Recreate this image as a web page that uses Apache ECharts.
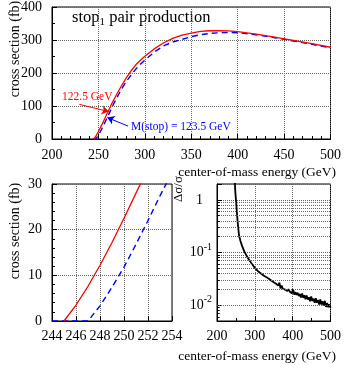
<!DOCTYPE html>
<html>
<head>
<meta charset="utf-8">
<script src="https://cdn.jsdelivr.net/npm/echarts@6/dist/echarts.min.js"></script>
<style>
  html, body { margin: 0; padding: 0; background: #fff; }
  #chart { width: 344px; height: 365px; }
</style>
</head>
<body>
<div id="chart"></div>
<script>
// stop pair cross sections (fb) vs center-of-mass energy (GeV)
const redEnergy = [245, 246, 247, 248, 249, 250, 251, 252, 254, 256, 258, 260, 262, 264, 267, 270,
  275, 280, 285, 290, 295, 300, 310, 320, 330, 340, 350, 360, 370, 380, 390, 400, 420, 440, 460, 480, 500]
const redXsec = [0, 3.5, 7.6, 12.2, 17.2, 22.5, 28, 33.5, 45, 57, 69, 80.5, 92.5, 105, 121, 137,
  162, 185, 206, 224, 238, 251, 273, 291, 305, 315, 321, 326, 328, 328.5, 327.5, 325.5, 318, 309, 299, 289, 278]

const blueEnergy = [244, 247, 248, 249, 250, 251, 252, 253, 254, 256, 258, 260, 262, 264, 266,
  270, 275, 280, 285, 290, 295, 300, 310, 320, 330, 340, 350, 360, 370, 380, 390, 400, 420, 440, 460, 480, 500]
const blueXsec = [0, 0, 3.3, 7.4, 11.8, 16.8, 22, 27.4, 32.5, 44, 56, 68, 80, 92, 104,
  126, 152, 174, 193, 211, 226, 239, 263, 282, 294, 302, 310, 316, 320, 322, 323, 322, 316, 307, 297, 287, 276]

// relative error on the cross section
const errEnergy = [247, 247.5, 248, 249, 250, 252, 254, 256, 258, 262, 266, 272, 279, 285, 292, 300, 310, 318, 325, 332,
  338, 341, 344, 347, 350, 353, 356, 359, 362, 365, 368, 371, 374, 377, 380, 383, 386, 389, 392, 395, 398,
  401, 404, 407, 410, 413, 416, 419, 422, 425, 428, 431, 434, 437, 440, 443, 446, 449, 452, 455, 458,
  461, 464, 467, 470, 473, 476, 479, 482, 485, 488, 491, 494, 497, 500]
const errRel = [3.5, 2.1, 1.6, 1.25, 1.02, 0.66, 0.43, 0.30, 0.215, 0.165, 0.135, 0.105, 0.085, 0.072, 0.061, 0.051, 0.043, 0.039, 0.0357, 0.0335,
  0.0314, 0.0311, 0.0290, 0.0296, 0.0271, 0.0281, 0.0254, 0.0267, 0.0236, 0.0267, 0.0207, 0.0236, 0.0205, 0.0219, 0.0198, 0.0213, 0.0185, 0.0202, 0.0182, 0.0197, 0.0167,
  0.0202, 0.0158, 0.0176, 0.0157, 0.0172, 0.0149, 0.0163, 0.0140, 0.0166, 0.0138, 0.0154, 0.0129, 0.0152, 0.0128, 0.0141, 0.0118, 0.0147, 0.0120, 0.0133, 0.0111,
  0.0135, 0.0111, 0.0125, 0.0103, 0.0129, 0.0103, 0.0118, 0.00975, 0.0121, 0.00926, 0.0110, 0.00910, 0.0104, 0.00893]

const FONT = '"Liberation Serif", "DejaVu Serif", serif'
const GRID_COLOR = '#666'

const pairs = (xs, ys) => xs.map((x, i) => [x, ys[i]])

// dotted lines + short ticks at 2..9 x each decade on the log axis
const logMinor = []
for (const dec of [0.001, 0.01, 0.1, 1]) {
  for (let m = 2; m <= 9; m++) {
    const v = +(m * dec).toPrecision(3)
    if (v > 0.005 && v < 2) {
      logMinor.push({ yAxis: v })
      logMinor.push([
        { coord: [200, v], lineStyle: { color: '#000', type: 'solid', width: 1 } },
        { coord: [207, v] }
      ])
    }
  }
}

const chart = echarts.init(document.getElementById('chart'), null, { renderer: 'canvas' })

const tickLabel = { color: '#000', fontFamily: FONT, fontSize: 14 }
const axisLine = { show: true, lineStyle: { color: '#000', width: 1 } }
const axisTick = { inside: true, length: 5, lineStyle: { color: '#000' } }
const minorTick = (n) => ({ show: true, splitNumber: n, length: 3, lineStyle: { color: '#000' } })
const splitLine = { show: true, lineStyle: { color: GRID_COLOR, type: 'dotted', width: 1 } }

const redLine = { color: '#ff0000', width: 1.3 }
const blueLine = { color: '#0000ff', width: 1.4, type: [6, 4] }

function logLabel(v) {
  const l = Math.log10(v)
  const e = Math.round(l)
  if (Math.abs(l - e) > 1e-6) return ''
  if (e === 0) return '{one|1}'
  return '{b|10}{s|' + e + '}'
}

const option = {
  animation: false,
  backgroundColor: '#fff',
  grid: [
    { left: 52, top: 3, width: 285, height: 136, show: true, borderColor: '#000', borderWidth: 1 },
    { left: 52, top: 184, width: 120, height: 137, show: true, borderColor: '#000', borderWidth: 1 },
    { left: 217, top: 184, width: 120, height: 137, show: true, borderColor: '#000', borderWidth: 1 }
  ],
  xAxis: [
    {
      gridIndex: 0, type: 'value', min: 200, max: 500, interval: 50,
      axisLine, axisTick, minorTick: minorTick(5), splitLine,
      axisLabel: { ...tickLabel, margin: 9 }
    },
    {
      gridIndex: 1, type: 'value', min: 244, max: 254, interval: 2,
      axisLine, axisTick, splitLine,
      axisLabel: { ...tickLabel, margin: 8 }
    },
    {
      gridIndex: 2, type: 'value', min: 200, max: 500, interval: 100,
      axisLine, axisTick, minorTick: minorTick(2), splitLine,
      axisLabel: { ...tickLabel, margin: 8 }
    }
  ],
  yAxis: [
    {
      gridIndex: 0, type: 'value', min: 0, max: 400, interval: 100,
      axisLine, axisTick, minorTick: minorTick(2), splitLine,
      axisLabel: { ...tickLabel, margin: 10 }
    },
    {
      gridIndex: 1, type: 'value', min: 0, max: 30, interval: 10,
      axisLine, axisTick, minorTick: minorTick(5), splitLine,
      axisLabel: { ...tickLabel, margin: 10 }
    },
    {
      gridIndex: 2, type: 'log', logBase: 10, min: 0.005, max: 2,
      axisLine, axisTick, splitLine,
      axisLabel: {
        ...tickLabel, margin: 5, formatter: logLabel,
        rich: {
          b: { fontFamily: FONT, fontSize: 14, color: '#000' },
          s: { fontFamily: FONT, fontSize: 10, color: '#000', padding: [0, 0, 11, 0] },
          one: { fontFamily: FONT, fontSize: 14, color: '#000', padding: [0, 9, 0, 0] }
        }
      }
    }
  ],
  series: [
    {
      name: '122.5 GeV', type: 'line', xAxisIndex: 0, yAxisIndex: 0,
      data: pairs(redEnergy, redXsec), showSymbol: false,
      lineStyle: redLine, z: 4,
      markLine: {
        silent: true, symbol: ['none', 'arrow'], symbolSize: 7,
        label: { show: false },
        lineStyle: { color: '#ff0000', width: 1, type: 'solid' },
        data: [[{ coord: [229.5, 105] }, { coord: [261.1, 83] }]]
      }
    },
    {
      name: 'M(stop) = 123.5 GeV', type: 'line', xAxisIndex: 0, yAxisIndex: 0,
      data: pairs(blueEnergy, blueXsec), showSymbol: false,
      lineStyle: blueLine, z: 3,
      markLine: {
        silent: true, symbol: ['none', 'arrow'], symbolSize: 7,
        label: { show: false },
        lineStyle: { color: '#0000ff', width: 1, type: 'solid' },
        data: [[{ coord: [282, 39] }, { coord: [259.6, 65] }]]
      }
    },
    {
      type: 'line', xAxisIndex: 1, yAxisIndex: 1,
      data: pairs(redEnergy, redXsec), showSymbol: false, lineStyle: redLine, z: 4
    },
    {
      type: 'line', xAxisIndex: 1, yAxisIndex: 1,
      data: pairs(blueEnergy, blueXsec), showSymbol: false, lineStyle: blueLine, z: 3
    },
    {
      type: 'line', xAxisIndex: 2, yAxisIndex: 2,
      data: pairs(errEnergy, errRel), showSymbol: false,
      lineStyle: { color: '#000', width: 1.8 }, z: 4,
      markLine: {
        silent: true, symbol: 'none', label: { show: false },
        lineStyle: { color: GRID_COLOR, type: 'dotted', width: 1 },
        data: logMinor
      }
    }
  ],
  graphic: [
    {
      type: 'text', x: 72, y: 18,
      style: {
        text: '{a|stop}{s|1}{a| pair production}',
        textVerticalAlign: 'middle', verticalAlign: 'middle',
        rich: {
          a: { fontFamily: FONT, fontSize: 16.5, color: '#000' },
          s: { fontFamily: FONT, fontSize: 11, color: '#000', padding: [9, 0, 0, 0] }
        }
      }
    },
    {
      type: 'text', x: 62, y: 97,
      style: { text: '122.5 GeV', fill: '#ff0000', font: '11.5px ' + FONT, textVerticalAlign: 'middle', verticalAlign: 'middle' }
    },
    {
      type: 'text', x: 131, y: 127,
      style: { text: 'M(stop) = 123.5 GeV', fill: '#0000ff', font: '11.5px ' + FONT, textVerticalAlign: 'middle', verticalAlign: 'middle' }
    },
    {
      type: 'text', x: 15, y: 49, rotation: Math.PI / 2,
      style: { text: 'cross section (fb)', fill: '#000', font: '14px ' + FONT, textAlign: 'center', align: 'center', textVerticalAlign: 'middle', verticalAlign: 'middle' }
    },
    {
      type: 'text', x: 15, y: 231, rotation: Math.PI / 2,
      style: { text: 'cross section (fb)', fill: '#000', font: '14px ' + FONT, textAlign: 'center', align: 'center', textVerticalAlign: 'middle', verticalAlign: 'middle' }
    },
    {
      type: 'text', x: 179, y: 189, rotation: Math.PI / 2,
      style: { text: 'Δσ/σ', fill: '#000', font: '13px ' + FONT, textAlign: 'center', align: 'center', textVerticalAlign: 'middle', verticalAlign: 'middle' }
    },
    {
      type: 'text', x: 336, y: 172,
      style: { text: 'center-of-mass energy (GeV)', fill: '#000', font: '13.5px ' + FONT, textAlign: 'right', align: 'right', textVerticalAlign: 'middle', verticalAlign: 'middle' }
    },
    {
      type: 'text', x: 336, y: 356,
      style: { text: 'center-of-mass energy (GeV)', fill: '#000', font: '13.5px ' + FONT, textAlign: 'right', align: 'right', textVerticalAlign: 'middle', verticalAlign: 'middle' }
    }
  ]
}

chart.setOption(option)
</script>
</body>
</html>
